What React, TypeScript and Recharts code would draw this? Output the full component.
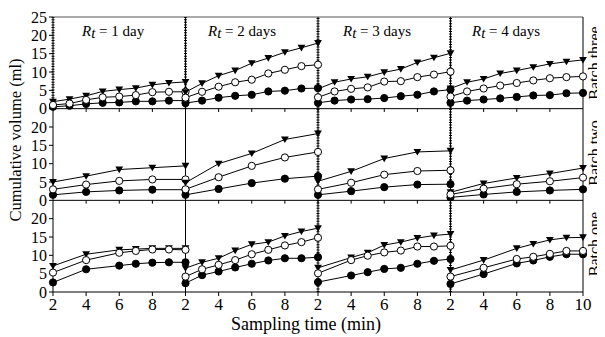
import { ComposedChart, Line, XAxis, YAxis, ReferenceLine } from 'recharts'

const SERIF = 'Liberation Serif, Times New Roman, serif'

const CHART_W = 597
const CHART_H = 329

// each panel spans 2..10 min, each row spans 0..25 ml
const PANEL_SPAN = 8
const ROW_SPAN = 25

const rtTitles = ['1 day', '2 days', '3 days', '4 days']
const batchNames = ['Batch three', 'Batch two', 'Batch one']
const timeTicks = [2, 4, 6, 8]
const volumeTicks = [0, 5, 10, 15, 20]

// sampling times per panel (Rt = 1, 2, 3, 4 days)
const timesBatchThree = [
  [2, 3, 4, 5, 6, 7, 8, 9, 10],
  [2, 3, 4, 5, 6, 7, 8, 9, 10],
  [2, 3, 4, 5, 6, 7, 8, 9, 10],
  [2, 3, 4, 5, 6, 7, 8, 9, 10],
]
const timesBatchTwo = [
  [2, 4, 6, 8, 10],
  [2, 4, 6, 8, 10],
  [2, 4, 6, 8, 10],
  [2, 4, 6, 8, 10],
]
const timesBatchOne = [
  [2, 4, 6, 7, 8, 9, 10],
  [2, 3, 4, 5, 6, 7, 8, 9, 10],
  [2, 4, 5, 6, 7, 8, 9, 10],
  [2, 4, 6, 7, 8, 9, 10],
]

// batch three
const threeTriangle = [
  [1.9, 2.6, 3.5, 4.7, 5.2, 5.6, 6.5, 7.0, 7.3],
  [4.5, 6.9, 9.0, 10.4, 12.4, 13.8, 15.4, 16.6, 17.9],
  [5.4, 7.2, 8.1, 8.7, 9.9, 10.8, 12.6, 13.9, 15.1],
  [5.5, 7.2, 8.1, 9.6, 10.4, 11.3, 12.2, 12.8, 13.3],
]
const threeOpen = [
  [1.0, 1.4, 2.4, 3.1, 3.3, 3.7, 4.5, 4.6, 4.6],
  [3.0, 4.6, 6.0, 7.2, 7.9, 9.6, 10.6, 11.6, 12.0],
  [3.1, 4.7, 5.4, 5.8, 7.4, 7.5, 8.6, 9.3, 10.1],
  [3.3, 4.7, 5.5, 6.3, 7.0, 7.7, 8.3, 8.6, 8.8],
]
const threeFilled = [
  [0.5, 0.8, 1.3, 1.6, 1.7, 2.0, 2.0, 2.2, 2.2],
  [1.5, 2.2, 3.0, 3.5, 3.8, 4.7, 4.9, 5.5, 5.6],
  [1.6, 2.2, 2.5, 2.6, 2.9, 3.4, 3.8, 4.7, 5.2],
  [1.6, 2.2, 2.5, 2.8, 3.2, 3.6, 3.7, 4.2, 4.3],
]

// batch two
const twoTriangle = [
  [5.0, 6.6, 8.4, 8.9, 9.4],
  [4.8, 10.0, 12.8, 16.6, 18.2],
  [5.2, 7.9, 11.4, 13.2, 13.5],
  [2.2, 4.6, 6.1, 7.3, 8.8],
]
const twoOpen = [
  [3.0, 4.3, 5.3, 5.7, 5.7],
  [3.0, 6.3, 9.4, 11.7, 13.2],
  [3.0, 4.8, 7.0, 8.0, 8.2],
  [1.6, 3.2, 4.4, 5.2, 6.2],
]
const twoFilled = [
  [1.5, 2.3, 2.7, 2.9, 2.9],
  [1.5, 3.1, 4.7, 5.9, 6.6],
  [1.5, 2.5, 3.6, 4.3, 4.4],
  [0.8, 1.6, 2.3, 2.7, 3.0],
]

// batch one
const oneTriangle = [
  [7.1, 10.3, 11.5, 11.7, 11.9, 11.9, 11.9],
  [6.5, 8.1, 9.2, 11.3, 13.0, 13.6, 15.3, 16.5, 17.4],
  [6.6, 9.4, 10.7, 12.8, 13.6, 14.7, 15.4, 15.8],
  [6.0, 8.7, 11.9, 13.1, 14.2, 14.8, 14.9],
]
const oneOpen = [
  [5.3, 8.7, 10.7, 11.2, 11.6, 11.6, 11.5],
  [4.2, 6.2, 7.4, 8.7, 10.3, 11.5, 12.7, 13.6, 14.8],
  [5.1, 8.7, 9.9, 10.8, 11.3, 12.4, 12.4, 12.6],
  [4.2, 6.6, 9.0, 9.6, 10.4, 11.2, 11.2],
]
const oneFilled = [
  [2.6, 6.2, 7.2, 7.7, 8.0, 8.1, 8.1],
  [2.4, 4.6, 5.6, 6.7, 7.7, 8.6, 9.2, 9.2, 9.5],
  [2.7, 4.5, 5.4, 6.3, 6.6, 7.7, 8.5, 9.0],
  [2.2, 4.9, 7.8, 8.6, 9.6, 10.3, 10.3],
]

// row 0 is the bottom row of the figure
const rows = [
  { row: 0, times: timesBatchOne, tri: oneTriangle, open: oneOpen, filled: oneFilled },
  { row: 1, times: timesBatchTwo, tri: twoTriangle, open: twoOpen, filled: twoFilled },
  { row: 2, times: timesBatchThree, tri: threeTriangle, open: threeOpen, filled: threeFilled },
]

function toPoints(times: number[], values: number[], row: number, col: number) {
  return times.map((t, i) => ({ x: col * PANEL_SPAN + (t - 2), y: row * ROW_SPAN + values[i] }))
}

const xTicks: number[] = []
for (let c = 0; c < 4; c++) timeTicks.forEach((t) => xTicks.push(c * PANEL_SPAN + t - 2))
xTicks.push(4 * PANEL_SPAN)

const yTicks: number[] = []
for (let r = 0; r < 3; r++) volumeTicks.forEach((v) => yTicks.push(r * ROW_SPAN + v))
yTicks.push(3 * ROW_SPAN)

const fmtX = (v: number) => (v === 4 * PANEL_SPAN ? '10' : String((v % PANEL_SPAN) + 2))
const fmtY = (v: number) => (v === 3 * ROW_SPAN ? '25' : String(v % ROW_SPAN))

function TriangleDot({ cx, cy }: any) {
  if (cx == null || cy == null) return null
  return <path d={`M${cx - 3.9},${cy - 3} L${cx + 3.9},${cy - 3} L${cx},${cy + 3.6} Z`} fill="#000" />
}

function CircleDot({ cx, cy, open }: any) {
  if (cx == null || cy == null) return null
  return <circle cx={cx} cy={cy} r={3.6} fill={open ? '#fff' : '#000'} stroke="#000" strokeWidth={1} />
}

const tickStyle = { fill: '#000', fontFamily: SERIF }

export default function App() {
  const lines: any[] = []
  rows.forEach(({ row, times, tri, open, filled }) => {
    for (let c = 0; c < 4; c++) {
      lines.push(
        <Line
          key={`t-${row}-${c}`}
          data={toPoints(times[c], tri[c], row, c)}
          dataKey="y"
          stroke="#000"
          strokeWidth={1}
          dot={(p: any) => <TriangleDot key={p.index} cx={p.cx} cy={p.cy} />}
          activeDot={false}
          isAnimationActive={false}
        />,
        <Line
          key={`f-${row}-${c}`}
          data={toPoints(times[c], filled[c], row, c)}
          dataKey="y"
          stroke="#000"
          strokeWidth={1}
          dot={(p: any) => <CircleDot key={p.index} cx={p.cx} cy={p.cy} />}
          activeDot={false}
          isAnimationActive={false}
        />,
        <Line
          key={`o-${row}-${c}`}
          data={toPoints(times[c], open[c], row, c)}
          dataKey="y"
          stroke="#000"
          strokeWidth={1}
          dot={(p: any) => <CircleDot key={p.index} cx={p.cx} cy={p.cy} open />}
          activeDot={false}
          isAnimationActive={false}
        />
      )
    }
  })

  // little ticks below the upper row axes
  const rowTicks: any[] = []
  ;[ROW_SPAN, 2 * ROW_SPAN].forEach((b) =>
    xTicks.slice(1, -1).forEach((x) =>
      rowTicks.push(
        <ReferenceLine key={`rt-${b}-${x}`} segment={[{ x, y: b }, { x, y: b - 0.9 }]} stroke="#000" />
      )
    )
  )

  const dotted = { stroke: '#000', strokeWidth: 3, strokeDasharray: '1 1.6' }

  return (
    <div style={{ position: 'relative', width: CHART_W, height: CHART_H, fontFamily: SERIF, color: '#000' }}>
      <ComposedChart
        width={CHART_W}
        height={CHART_H}
        margin={{ top: 9, right: 22, bottom: 0, left: 0 }}
        style={{ fontFamily: SERIF }}
      >
        <XAxis
          type="number"
          dataKey="x"
          domain={[0, 4 * PANEL_SPAN]}
          ticks={xTicks}
          tickFormatter={fmtX}
          tick={{ ...tickStyle, fontSize: 17 }}
          tickSize={4}
          height={45}
          stroke="#000"
          interval={0}
        />
        <YAxis
          type="number"
          domain={[0, 3 * ROW_SPAN]}
          ticks={yTicks}
          tickFormatter={fmtY}
          tick={{ ...tickStyle, fontSize: 16 }}
          tickSize={4}
          width={45}
          stroke="#000"
          interval={0}
        />
        <ReferenceLine y={ROW_SPAN} stroke="#000" />
        <ReferenceLine y={2 * ROW_SPAN} stroke="#000" />
        <ReferenceLine y={3 * ROW_SPAN} stroke="#555" />
        <ReferenceLine x={4 * PANEL_SPAN} stroke="#000" />
        <ReferenceLine segment={[{ x: 0, y: 2 * ROW_SPAN }, { x: 0, y: 3 * ROW_SPAN }]} {...dotted} />
        <ReferenceLine x={PANEL_SPAN} stroke="#000" />
        <ReferenceLine segment={[{ x: PANEL_SPAN, y: 2 * ROW_SPAN }, { x: PANEL_SPAN, y: 3 * ROW_SPAN }]} {...dotted} />
        <ReferenceLine x={2 * PANEL_SPAN} stroke="#000" />
        <ReferenceLine x={2 * PANEL_SPAN} {...dotted} />
        <ReferenceLine x={3 * PANEL_SPAN} stroke="#000" />
        <ReferenceLine x={3 * PANEL_SPAN} {...dotted} />
        {rowTicks}
        {lines}
      </ComposedChart>

      {rtTitles.map((t, i) => (
        <div
          key={t}
          style={{ position: 'absolute', left: [74, 200, 335, 464][i], top: 15, fontSize: 15, whiteSpace: 'nowrap' }}
        >
          <span style={{ fontStyle: 'italic' }}>R</span>
          <span style={{ fontStyle: 'italic', position: 'relative', top: 2 }}>t</span> = {t}
        </div>
      ))}

      {batchNames.map((b, i) => (
        <div
          key={b}
          style={{
            position: 'absolute',
            left: 587,
            top: [55, 145, 236][i],
            transform: 'translate(-50%, -50%) rotate(-90deg)',
            fontSize: 16,
            lineHeight: '16px',
            whiteSpace: 'nowrap',
          }}
        >
          {b}
        </div>
      ))}

      <div
        style={{
          position: 'absolute',
          left: 7,
          top: 132,
          transform: 'translate(-50%, -50%) rotate(-90deg)',
          fontSize: 16.5,
          lineHeight: '17px',
          whiteSpace: 'nowrap',
        }}
      >
        Cumulative volume (ml)
      </div>
      <div
        style={{
          position: 'absolute',
          left: 298,
          top: 316,
          transform: 'translate(-50%, -50%)',
          fontSize: 18,
          whiteSpace: 'nowrap',
        }}
      >
        Sampling time (min)
      </div>
    </div>
  )
}
